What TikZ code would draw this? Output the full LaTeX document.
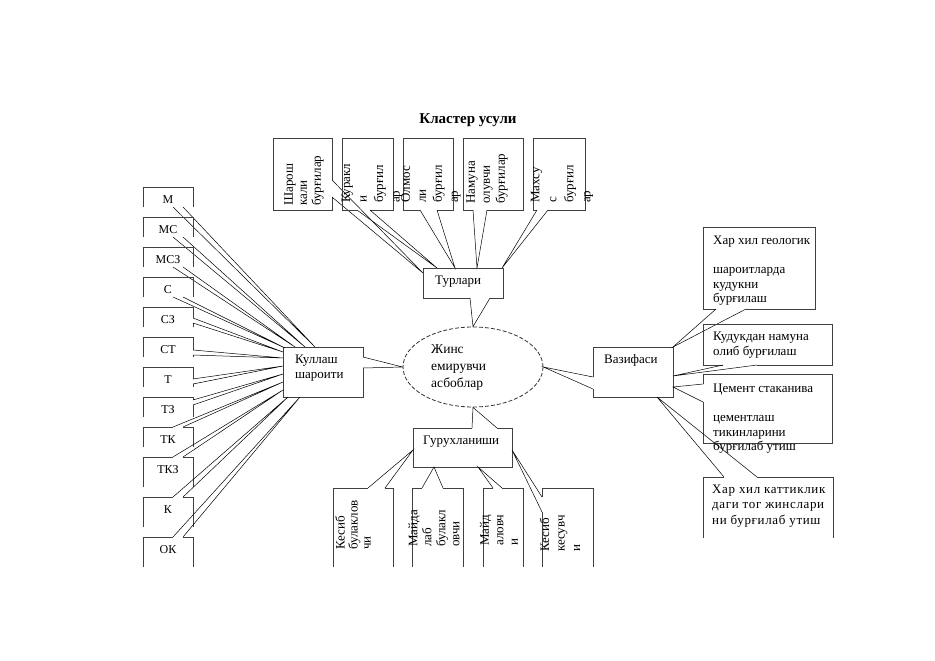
\documentclass[tikz,border=0pt]{standalone}
\usepackage{fontspec}
\setmainfont{Liberation Serif}
\usetikzlibrary{shapes.geometric}
% closed callouts: x1 y1 x2 y2 gap1 gap2 tip
\newcommand\cbB[7]{\draw[bord] (#5,#4) -- (#1,#4) -- (#1,#2) -- (#3,#2) -- (#3,#4) -- (#6,#4); \draw[wedge] (#5,#4) -- (#7) -- (#6,#4);}
\newcommand\cbT[7]{\draw[bord] (#5,#2) -- (#1,#2) -- (#1,#4) -- (#3,#4) -- (#3,#2) -- (#6,#2); \draw[wedge] (#5,#2) -- (#7) -- (#6,#2);}
\newcommand\cbR[7]{\draw[bord] (#3,#5) -- (#3,#2) -- (#1,#2) -- (#1,#4) -- (#3,#4) -- (#3,#6); \draw[wedge] (#3,#5) -- (#7) -- (#3,#6);}
\newcommand\cbL[7]{\draw[bord] (#1,#5) -- (#1,#2) -- (#3,#2) -- (#3,#4) -- (#1,#4) -- (#1,#6); \draw[wedge] (#1,#5) -- (#7) -- (#1,#6);}
% open-bottom callouts
\newcommand\obB[7]{\draw[bord] (#1,#4) -- (#1,#2) -- (#3,#2) -- (#3,#4); \draw[wedge] (#5,#4) -- (#7) -- (#6,#4);}
\newcommand\obT[7]{\draw[bord] (#1,#4) -- (#1,#2) -- (#5,#2); \draw[bord] (#6,#2) -- (#3,#2) -- (#3,#4); \draw[wedge] (#5,#2) -- (#7) -- (#6,#2);}
\newcommand\obR[7]{\draw[bord] (#1,#4) -- (#1,#2) -- (#3,#2) -- (#3,#5); \draw[bord] (#3,#6) -- (#3,#4); \draw[wedge] (#3,#5) -- (#7) -- (#3,#6);}
\newcommand\obL[7]{\draw[bord] (#1,#5) -- (#1,#2) -- (#3,#2) -- (#3,#4); \draw[bord] (#1,#6) -- (#1,#4); \draw[wedge] (#1,#5) -- (#7) -- (#1,#6);}
\begin{document}
\begin{tikzpicture}[x=1pt,y=-1pt,
  bord/.style={draw=black!75, line width=0.9pt},
  wedge/.style={draw=black, line width=0.5pt},
  txt/.style={inner sep=0pt, align=left, anchor=west, font=\fontsize{13}{14.5}\selectfont},
  lab/.style={inner sep=0pt, anchor=center, font=\fontsize{12}{14}\selectfont},
  rot/.style={inner sep=0pt, align=left, anchor=west, rotate=90},
  ellnode/.style={draw=black!80, dashed, dash pattern=on 4pt off 2pt, line width=0.8pt, ellipse, inner sep=0pt, minimum width=140pt, minimum height=80pt}]
\fill[white] (0,0) rectangle (935,661);
\useasboundingbox (0,0) rectangle (935,661);

% title
\node[inner sep=0pt, font=\bfseries\fontsize{15}{18}\selectfont] (title) at (468,120) {Кластер усули};

% centre
\node[ellnode] (ell) at (473,367) {};
\node[txt, font=\fontsize{13.5}{17}\selectfont] (ellt) at (431,368) {Жинс\\емирувчи\\асбоблар};

% tips
\coordinate (tA) at (423,273);
\coordinate (tB) at (437,268);
\coordinate (tC) at (455,268);
\coordinate (tD) at (477,268);
\coordinate (tE) at (502,268);
\coordinate (vA) at (673,347);
\coordinate (vB) at (673,376);
\coordinate (vC) at (673,387);
\coordinate (vD) at (657,397);
\coordinate (kM) at (315,347);
\coordinate (kMS) at (305,347);
\coordinate (kMSZ) at (295,347);
\coordinate (kS) at (285,348);
\coordinate (kSZ) at (283,352);
\coordinate (kST) at (283,358);
\coordinate (kT) at (283,366);
\coordinate (kTZ) at (283,374);
\coordinate (kTK) at (283,382);
\coordinate (kTKZ) at (283,390);
\coordinate (kK) at (288,397);
\coordinate (kOK) at (300,397);
\coordinate (gW) at (413,450);
\coordinate (gS1) at (434,467);
\coordinate (gS2) at (478,467);
\coordinate (gE) at (512,450);

% top row
\cbR{273}{138}{332}{210}{180}{197}{tA}
\cbB{342}{138}{393}{210}{357}{370}{tB}
\cbB{403}{138}{453}{210}{420}{437}{tC}
\cbB{463}{138}{523}{210}{473}{487}{tD}
\cbB{533}{138}{585}{210}{537}{548}{tE}
\node[rot, font=\fontsize{13}{14}\selectfont] (t1) at (304,206) {Шарош\\кали\\бурғилар};
\node[rot, font=\fontsize{13}{16.5}\selectfont] (t2) at (372,203) {Куракл\\и\\бурғил\\ар};
\node[rot, font=\fontsize{13}{16}\selectfont] (t3) at (431,203) {Олмос\\ли\\бурғил\\ар};
\node[rot, font=\fontsize{13}{15}\selectfont] (t4) at (487,204) {Намуна\\олувчи\\бурғилар};
\node[rot, font=\fontsize{13}{17}\selectfont] (t5) at (562,203) {Махсу\\с\\бурғил\\ар};

% main branches
\cbB{423}{268}{503}{298}{470}{490}{ell.north}
\node[txt] (tur) at (435,282) {Турлари};
\cbR{283}{347}{363}{397}{357}{368}{ell.west}
\node[txt] (kul) at (295,368) {Куллаш\\шароити};
\cbL{593}{347}{673}{397}{377}{389}{ell.east}
\node[txt] (vaz) at (604,360) {Вазифаси};
\cbT{413}{428}{512}{467}{472}{497}{ell.south}
\node[txt] (gur) at (423,442) {Гурухланиши};

% right column
\cbB{703}{227}{815}{309}{716}{746}{vA}
\node[txt] (r1) at (713,271) {Хар хил геологик\\[14.5pt]шароитларда\\кудукни\\бурғилаш};
\cbB{703}{324}{832}{365}{723}{757}{vB}
\node[txt] (r2) at (713,345) {Кудукдан намуна\\олиб бурғилаш};
\cbL{703}{374}{832}{443}{384}{402}{vC}
\node[txt] (r3) at (713,419) {Цемент стаканива\\[14.5pt]цементлаш\\тикинларини\\бурғилаб утиш};
\obT{703}{477}{833}{538}{724}{757}{vD}
\node[txt, font=\fontsize{13}{15.5}\selectfont\addfontfeature{LetterSpace=5}] (r4) at (712,506) {Хар хил каттиклик\\даги тог жинслари\\ни бурғилаб утиш};

% left column
\obB{143}{187}{193}{207}{173}{183}{kM}
\obB{143}{217}{193}{237}{173}{183}{kMS}
\obB{143}{247}{193}{267}{173}{183}{kMSZ}
\obB{143}{277}{193}{297}{173}{183}{kS}
\obR{143}{307}{193}{327}{318}{323}{kSZ}
\obR{143}{337}{193}{357}{350}{355}{kST}
\obR{143}{367}{193}{387}{379}{384}{kT}
\obR{143}{397}{193}{417}{400}{405}{kTZ}
\obT{143}{427}{193}{447}{173}{183}{kTK}
\obT{143}{457}{193}{487}{173}{183}{kTKZ}
\obT{143}{497}{193}{527}{173}{183}{kK}
\obT{143}{537}{193}{567}{173}{183}{kOK}
\node[lab] (lM) at (168,200) {М};
\node[lab] (lMS) at (168,230) {МС};
\node[lab] (lMSZ) at (168,260) {МСЗ};
\node[lab] (lS) at (168,290) {С};
\node[lab] (lSZ) at (168,320) {СЗ};
\node[lab] (lST) at (168,350) {СТ};
\node[lab] (lT) at (168,380) {Т};
\node[lab] (lTZ) at (168,410) {ТЗ};
\node[lab] (lTK) at (168,440) {ТК};
\node[lab] (lTKZ) at (168,470) {ТКЗ};
\node[lab] (lK) at (168,510) {К};
\node[lab] (lOK) at (168,550) {ОК};

% bottom row
\obT{333}{488}{393}{567}{368}{385}{gW}
\obT{412}{488}{463}{567}{422}{443}{gS1}
\obT{483}{488}{523}{567}{493}{502}{gS2}
\obL{542}{488}{593}{567}{497}{512}{gE}
\node[rot, font=\fontsize{13}{13}\selectfont] (b1) at (353,550) {Кесиб\\булаклов\\чи};
\node[rot, font=\fontsize{13}{14}\selectfont] (b2) at (434,547) {Майда\\лаб\\булакл\\овчи};
\node[rot, font=\fontsize{13}{14.5}\selectfont] (b3) at (499,546) {Майд\\аловч\\и};
\node[rot, font=\fontsize{13}{15.5}\selectfont] (b4) at (560,552) {Кесиб\\кесувч\\и};
\end{tikzpicture}
\end{document}
